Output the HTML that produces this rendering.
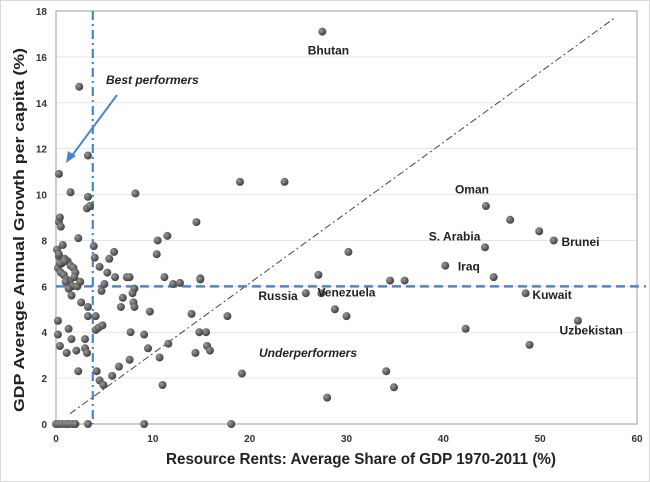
<!DOCTYPE html>
<html><head><meta charset="utf-8"><style>
html,body{margin:0;padding:0;background:#fff}
svg{display:block;font-family:"Liberation Sans",Arial,sans-serif}
</style></head><body>
<svg id="chart" width="650" height="482" viewBox="0 0 650 482">
<defs><radialGradient id="dot" cx="35%" cy="35%" r="70%"><stop offset="0" stop-color="#9a9a9a"/><stop offset="1" stop-color="#3a3a3a"/></radialGradient></defs>
<rect x="0.5" y="0.5" width="649" height="481" fill="#fff" stroke="#d9d9d9"/>
<g id="grid"></g>
<g id="axes"></g>
<g id="refs"></g>
<g id="pts"></g>
<g id="labs"></g>
<text x="166" y="464" textLength="390" lengthAdjust="spacingAndGlyphs" font-size="15.5" font-weight="bold" fill="#222">Resource Rents: Average Share of GDP 1970-2011 (%)</text>
<text transform="translate(24,412) rotate(-90)" textLength="364" lengthAdjust="spacingAndGlyphs" font-size="15" font-weight="bold" fill="#222">GDP Average Annual Growth per capita (%)</text>
<text x="106" y="84" font-size="12" font-weight="bold" font-style="italic" fill="#222">Best performers</text>
<line x1="117" y1="95" x2="71" y2="157" stroke="#4a86d0" stroke-width="2"/>
<polygon points="66,163 68,151 76,156" fill="#4a86d0"/>
<text x="259" y="357" font-size="12" font-weight="bold" font-style="italic" fill="#222">Underperformers</text>
</svg>
<script>
const xTicks=[0,10,20,30,40,50,60];
const yTicks=[0,2,4,6,8,10,12,14,16,18];
const xs=[27.5,19.0,23.6,44.4,46.9,49.9,51.4,44.3,40.2,45.2,30.2,27.1,34.5,36.0,25.8,27.4,28.8,30.0,17.7,48.5,53.9,42.3,48.9,19.2,34.1,34.9,28.0,15.5,15.6,15.9,14.9,
2.4,3.3,0.3,1.5,3.3,3.2,3.5,8.2,0.3,0.4,0.5,2.3,3.9,6.0,4.0,5.5,4.5,5.3,6.1,7.3,7.6,5.0,4.7,6.9,6.7,8.1,7.9,8.0,8.1,9.7,2.6,3.3,3.3,4.1,0.2,1.3,1.6,4.1,4.4,4.8,0.2,0.4,1.1,2.1,3.0,3.0,3.2,2.3,4.2,4.5,4.9,5.8,6.5,7.6,7.7,9.1,9.5,10.5,10.4,11.5,10.7,11.0,11.6,11.2,12.1,12.8,14.0,14.5,14.9,14.4,14.8,
0.1,0.3,0.6,0.9,1.2,1.5,1.8,0.2,0.5,0.8,1.1,1.4,1.7,2.0,0.3,0.7,1.0,1.3,1.9,2.2,0.4,0.9,1.6,2.5,
0.0,0.3,0.6,1.0,1.3,1.7,2.0,3.3,9.1,18.1];
const ys=[17.1,10.55,10.55,9.5,8.9,8.4,8.0,7.7,6.9,6.4,7.5,6.5,6.25,6.25,5.7,5.7,5.0,4.7,4.7,5.7,4.5,4.15,3.45,2.2,2.3,1.6,1.15,4.0,3.4,3.2,6.35,
14.7,11.7,10.9,10.1,9.9,9.4,9.5,10.05,8.8,9.0,8.6,8.1,7.75,7.5,7.25,7.2,6.85,6.6,6.4,6.4,6.4,6.1,5.8,5.5,5.1,5.9,5.7,5.3,5.1,4.9,5.3,5.1,4.7,4.7,4.5,4.15,3.7,4.1,4.2,4.3,3.9,3.4,3.1,3.2,3.7,3.3,3.1,2.3,2.3,1.9,1.7,2.1,2.5,2.8,4.0,3.9,3.3,8.0,7.4,8.2,2.9,1.7,3.5,6.4,6.1,6.15,4.8,8.8,6.3,3.1,4.0,
7.6,7.3,7.0,7.2,7.1,6.9,6.8,6.8,6.6,6.5,6.3,6.2,6.0,6.6,7.4,7.8,6.2,5.9,6.4,6.0,7.0,7.1,5.6,6.2,
0,0,0,0,0,0,0,0,0,0];
const labelNames=["Bhutan","Oman","S. Arabia","Brunei","Iraq","Russia","Venezuela","Kuwait","Uzbekistan"];
const labelX=[26.0,41.2,38.5,52.2,41.5,20.9,27.0,49.2,52.0];
const labelY=[16.1,10.05,8.0,7.75,6.7,5.4,5.55,5.45,3.9];
const X=v=>56+v*(637-56)/60, Y=v=>424-v*(424-11)/18;
const NS="http://www.w3.org/2000/svg";
function mk(p,t,a){const e=document.createElementNS(NS,t);for(const k in a)e.setAttribute(k,a[k]);p.appendChild(e);return e;}
const grid=document.getElementById('grid'),axes=document.getElementById('axes'),refs=document.getElementById('refs'),pts=document.getElementById('pts'),labs=document.getElementById('labs');
yTicks.forEach(t=>{if(t>0){const l=mk(grid,'line',{x1:X(0),x2:X(60),y1:Y(t),y2:Y(t),stroke:'#e6e6e6'});

}
const tx=mk(axes,'text',{x:X(0)-9,y:Y(t)+4,'text-anchor':'end','font-size':'10','font-weight':'bold',fill:'#333'});tx.textContent=t;

});
xTicks.forEach(t=>{const tx=mk(axes,'text',{x:X(t),y:Y(0)+18,'text-anchor':'middle','font-size':'10','font-weight':'bold',fill:'#333'});tx.textContent=t;

});
const box=mk(axes,'rect',{x:X(0),y:Y(18),width:X(60)-X(0),height:Y(0)-Y(18),fill:'none',stroke:'#bdbdbd','stroke-width':'1.5'});


const d=mk(refs,'line',{x1:X(1.45),y1:Y(0.45),x2:X(57.7),y2:Y(17.7),stroke:'#444','stroke-width':'1','stroke-dasharray':'7 3 2 3'});


const v=mk(refs,'line',{x1:X(3.8),y1:Y(18),x2:X(3.8),y2:Y(0),stroke:'#4a86d0','stroke-width':'2.2','stroke-dasharray':'9 4 2 4'});


const h=mk(refs,'line',{x1:X(0),y1:Y(6),x2:646,y2:Y(6),stroke:'#4a86d0','stroke-width':'2.5','stroke-dasharray':'9 5'});


xs.forEach((x,i)=>{const c=mk(pts,'circle',{cx:X(x),cy:Y(ys[i]),r:4,fill:'url(#dot)'});

});
labelNames.forEach((n,i)=>{const t=mk(labs,'text',{x:X(labelX[i]),y:Y(labelY[i]),'font-size':'12','font-weight':'bold',fill:'#222'});t.textContent=n;

});
</script>
</body></html>
